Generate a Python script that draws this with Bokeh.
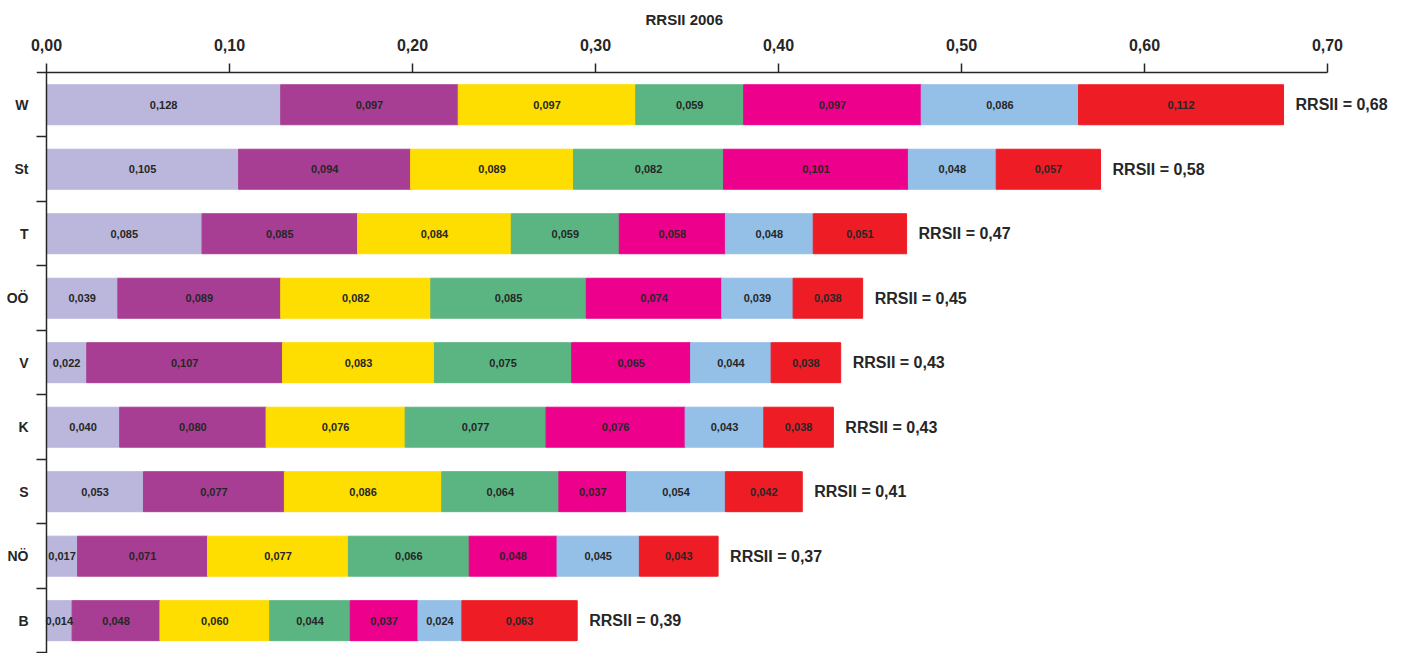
from bokeh.plotting import figure
from bokeh.models import ColumnDataSource, Range1d, FixedTicker
from bokeh.core.properties import value
from bokeh.embed import file_html
from bokeh.resources import INLINE

# ---------------- data ----------------
regions = ["W", "St", "T", "OÖ", "V", "K", "S", "NÖ", "B"]
comp1 = [0.128, 0.105, 0.085, 0.039, 0.022, 0.040, 0.053, 0.017, 0.014]
comp2 = [0.097, 0.094, 0.085, 0.089, 0.107, 0.080, 0.077, 0.071, 0.048]
comp3 = [0.097, 0.089, 0.084, 0.082, 0.083, 0.076, 0.086, 0.077, 0.060]
comp4 = [0.059, 0.082, 0.059, 0.085, 0.075, 0.077, 0.064, 0.066, 0.044]
comp5 = [0.097, 0.101, 0.058, 0.074, 0.065, 0.076, 0.037, 0.048, 0.037]
comp6 = [0.086, 0.048, 0.048, 0.039, 0.044, 0.043, 0.054, 0.045, 0.024]
comp7 = [0.112, 0.057, 0.051, 0.038, 0.038, 0.038, 0.042, 0.043, 0.063]
rrsii = [0.68, 0.58, 0.47, 0.45, 0.43, 0.43, 0.41, 0.37, 0.39]
x_ticks = [0.0, 0.1, 0.2, 0.3, 0.4, 0.5, 0.6, 0.7]
x_tick_labels = ["0,00", "0,10", "0,20", "0,30", "0,40", "0,50", "0,60", "0,70"]
axis_title = "RRSII 2006"

colors = ["#bab6dc", "#a83e93", "#fedd00", "#5bb582", "#ec008c", "#94bfe6", "#ee1c25"]
FONT = "Liberation Sans"
TXT = "#262626"
X_START = -0.00546
X_END = 0.7421

series_names = ["k1", "k2", "k3", "k4", "k5", "k6", "k7"]
series_vals = [comp1, comp2, comp3, comp4, comp5, comp6, comp7]

def fmt(v, d):
    return f"{v:.{d}f}".replace(".", ",")

ypos = [i + 0.5 for i in range(len(regions))]
data = {"y": ypos}
for n, vals in zip(series_names, series_vals):
    data[n] = vals
src = ColumnDataSource(data)

p = figure(width=1404, height=653,
           x_range=Range1d(X_START, X_END), y_range=Range1d(9.009, -0.031),
           x_axis_location="above",
           output_backend="svg", toolbar_location=None,
           min_border_left=36, min_border_right=0,
           min_border_top=69, min_border_bottom=0)
p.outline_line_color = None
p.xgrid.visible = False
p.ygrid.visible = False

p.title.text = axis_title
p.title.align = "left"
p.title.offset = 609
p.title.text_font = FONT
p.title.text_font_style = "bold"
p.title.text_font_size = "15px"
p.title.text_color = TXT
p.title.standoff = 16

p.hbar_stack(series_names, y="y", height=0.62, color=colors, source=src)

# value labels in segments
tx, ty, tt = [], [], []
for i in range(len(regions)):
    left = 0.0
    for vals in series_vals:
        v = vals[i]
        tx.append(left + v / 2)
        ty.append(ypos[i])
        tt.append(fmt(v, 3))
        left += v
tsrc = ColumnDataSource(dict(x=tx, y=ty, t=tt))
p.text(x="x", y="y", text="t", source=tsrc,
       text_font=value(FONT), text_font_style="bold", text_font_size="11px",
       text_align="center", text_baseline="middle", text_color=TXT)

# RRSII labels at the end of each bar
totals = [sum(vals[i] for vals in series_vals) for i in range(len(regions))]
rsrc = ColumnDataSource(dict(x=totals, y=ypos,
                             t=["RRSII = " + fmt(v, 2) for v in rrsii]))
p.text(x="x", y="y", text="t", source=rsrc, x_offset=12,
       text_font=value(FONT), text_font_style="bold", text_font_size="16px",
       text_align="left", text_baseline="middle", text_color=TXT)

# axis line (to 0,70) and left vertical line at 0
p.segment(x0=[X_START], x1=[x_ticks[-1]], y0=[0], y1=[0],
          line_color=TXT, line_width=1.5)
p.segment(x0=[0], x1=[0], y0=[0], y1=[len(regions)],
          line_color=TXT, line_width=1.5)

# top axis
xax = p.xaxis[0]
xax.ticker = FixedTicker(ticks=x_ticks)
xax.major_label_overrides = {t: l for t, l in zip(x_ticks, x_tick_labels)}
xax.major_tick_out = 7
xax.major_tick_in = 2
xax.minor_tick_out = 0
xax.minor_tick_in = 0
xax.axis_line_color = None
xax.major_tick_line_color = TXT
xax.major_tick_line_width = 1.5
xax.major_label_standoff = 13
xax.major_label_text_font = FONT
xax.major_label_text_font_style = "bold"
xax.major_label_text_font_size = "16px"
xax.major_label_text_color = TXT

# left axis: category labels at centres, minor ticks at boundaries
yax = p.yaxis[0]
yax.ticker = FixedTicker(ticks=ypos, minor_ticks=[float(i) for i in range(1, len(regions) + 1)])
yax.major_label_overrides = {y: r for y, r in zip(ypos, regions)}
yax.major_tick_in = 0
yax.major_tick_out = 0
yax.minor_tick_in = 10
yax.minor_tick_out = 0
yax.minor_tick_line_color = TXT
yax.minor_tick_line_width = 1.5
yax.axis_line_color = None
yax.major_label_standoff = 8
yax.major_label_text_font = FONT
yax.major_label_text_font_style = "bold"
yax.major_label_text_font_size = "14px"
yax.major_label_text_color = TXT

open("out.html", "w").write(file_html(p, INLINE))
